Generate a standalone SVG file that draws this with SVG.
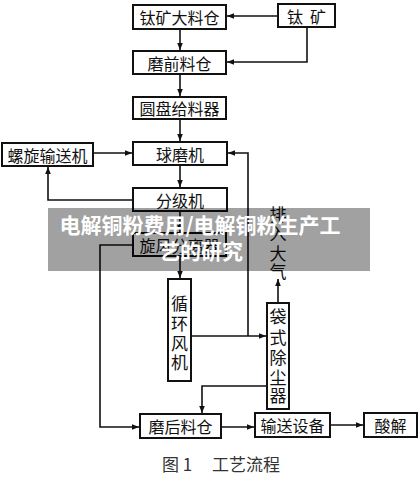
<svg xmlns="http://www.w3.org/2000/svg" width="420" height="480" viewBox="0 0 420 480">
<style>
.box{fill:#fff;stroke:#111;stroke-width:2}
.t{font-family:"Noto Sans CJK SC","Noto Sans CJK JP",sans-serif;font-size:16px;fill:#111;text-anchor:middle;dominant-baseline:central}
.v{font-family:"Noto Sans CJK SC","Noto Sans CJK JP",sans-serif;font-size:17px;fill:#111;text-anchor:middle;dominant-baseline:central}
.ln{fill:none;stroke:#111;stroke-width:1.6}
.wm{font-family:"Noto Sans CJK SC","Noto Sans CJK JP",sans-serif;font-size:21px;font-weight:bold;fill:#fff;text-anchor:middle}
.cap{font-family:"Noto Sans CJK SC","Noto Sans CJK JP",serif;font-size:17px;fill:#333}
</style>
<defs>
<marker id="a" viewBox="0 0 10 10" refX="10" refY="5" markerWidth="7" markerHeight="7" markerUnits="userSpaceOnUse" orient="auto">
<path d="M0,1 L10,5 L0,9 z" fill="#111"/>
</marker>
</defs>
<rect width="420" height="480" fill="#fff"/>
<g id="connectors" class="ln" marker-end="url(#a)">
<path d="M278,16 H227"/>
<path d="M307,27 V62 H227"/>
<path d="M180,29 V50"/>
<path d="M180,74 V96"/>
<path d="M180,119 V141"/>
<path d="M93,153 H132"/>
<path d="M180,165 V187"/>
<path d="M133,200 H48 V167"/>
<path d="M180,211 V232"/>
<path d="M133,245 H100 V427 H139"/>
<path d="M180,256 V278"/>
<path d="M191,336 H266"/>
<path d="M248,336 V153 H228"/>
<path d="M278,303 V279"/>
<path d="M267,386 H202 V413"/>
<path d="M221,427 H254"/>
<path d="M330,425 H363"/>
</g>
<g id="n1"><rect class="box" x="133" y="5" width="93" height="24"/><text class="t" x="179.5" y="17">钛矿大料仓</text></g>
<g id="n2"><rect class="box" x="278" y="4" width="57" height="23"/><text class="t" x="306.5" y="15.5" xml:space="preserve">钛  矿</text></g>
<g id="n3"><rect class="box" x="133" y="51" width="93" height="23"/><text class="t" x="179.5" y="62.5">磨前料仓</text></g>
<g id="n4"><rect class="box" x="133" y="97" width="93" height="22"/><text class="t" x="179.5" y="108">圆盘给料器</text></g>
<g id="n5"><rect class="box" x="2" y="143" width="91" height="23"/><text class="t" x="47.5" y="154.5">螺旋输送机</text></g>
<g id="n6"><rect class="box" x="133" y="142" width="94" height="23"/><text class="t" x="180" y="153.5">球磨机</text></g>
<g id="n7"><rect class="box" x="133" y="188" width="94" height="23"/><text class="t" x="180" y="199.5">分级机</text></g>
<g id="n8"><rect class="box" x="133" y="233" width="93" height="23"/><text class="t" x="179.5" y="244.5">旋风分离器</text></g>
<g id="n9"><rect class="box" x="168" y="279" width="23" height="102"/>
<text class="v" x="179.5" y="302">循</text><text class="v" x="179.5" y="322">环</text><text class="v" x="179.5" y="342">风</text><text class="v" x="179.5" y="361">机</text></g>
<g id="n10"><rect class="box" x="267" y="303" width="22" height="106"/>
<text class="v" x="278" y="315">袋</text><text class="v" x="278" y="336">式</text><text class="v" x="278" y="356">除</text><text class="v" x="278" y="376">尘</text><text class="v" x="278" y="394">器</text></g>
<g id="n11">
<text class="v" x="278" y="213">排</text><text class="v" x="278" y="232">入</text><text class="v" x="278" y="252">大</text><text class="v" x="278" y="270">气</text></g>
<g id="n12"><rect class="box" x="140" y="414" width="81" height="24"/><text class="t" x="180.5" y="426">磨后料仓</text></g>
<g id="n13"><rect class="box" x="255" y="413" width="75" height="24"/><text class="t" x="292.5" y="425">输送设备</text></g>
<g id="n14"><rect class="box" x="364" y="413" width="53" height="24"/><text class="t" x="390.5" y="425">酸解</text></g>
<text class="cap" x="162" y="471">图 1</text>
<text class="cap" x="212" y="471">工艺流程</text>
<rect x="48" y="208" width="322" height="63" fill="#000" fill-opacity="0.37"/>
<text class="wm" x="200" y="233">电解铜粉费用/电解铜粉生产工</text>
<text class="wm" x="201" y="259">艺的研究</text>
</svg>
